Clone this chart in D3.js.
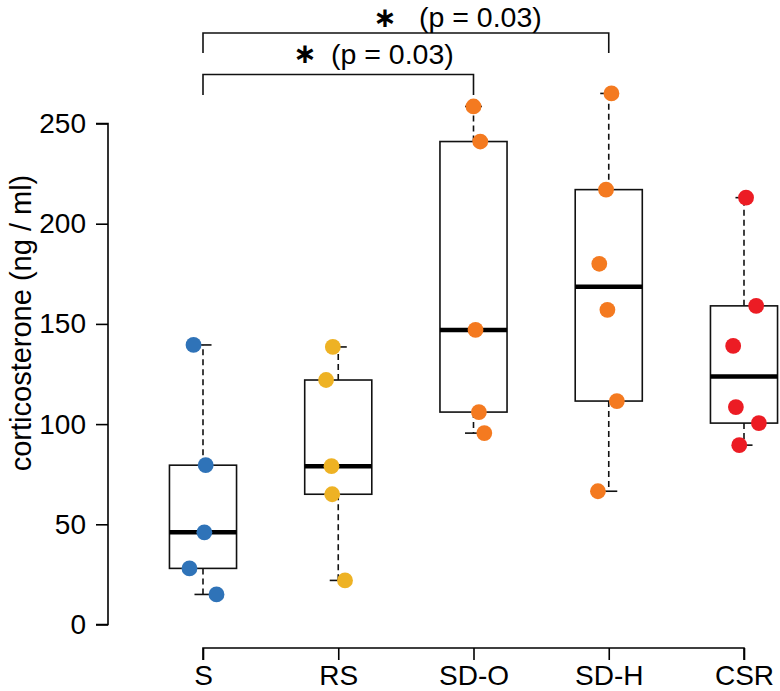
<!DOCTYPE html>
<html>
<head>
<meta charset="utf-8">
<script src="https://cdn.jsdelivr.net/npm/d3@7"></script>
<style>
  html, body { margin: 0; padding: 0; background: #fff; }
  svg { display: block; }
  text { font-family: "Liberation Sans", Arial, sans-serif; fill: #000; }
</style>
</head>
<body>
<svg id="chart" width="780" height="691"></svg>
<script>
// ---------- data ----------
const categories = ["S", "RS", "SD-O", "SD-H", "CSR"];
const valuesS   = [139.5, 79.5, 46, 28, 15];
const valuesRS  = [138.5, 122, 79, 65, 22];
const valuesSDO = [258.5, 241, 147, 106, 95.5];
const valuesSDH = [265, 217, 180, 157, 111.5, 66.5];
const valuesCSR = [213, 159, 139, 108.5, 100.5, 89.5];
// horizontal jitter of each point, in category units
const jitterS   = [-0.07, 0.02, 0.01, -0.10, 0.10];
const jitterRS  = [-0.04, -0.09, -0.05, -0.045, 0.05];
const jitterSDO = [0.0, 0.05, 0.015, 0.04, 0.08];
const jitterSDH = [0.02, -0.02, -0.07, -0.01, 0.06, -0.08];
const jitterCSR = [0.015, 0.09, -0.08, -0.06, 0.11, -0.035];
const groupColors = ["#2F73B8", "#EEB224", "#F47A20", "#F47A20", "#EC1C24"];
const yTicks = [0, 50, 100, 150, 200, 250];
const yLabel = "corticosterone (ng / ml)";
const comparisons = [
  { from: "S", to: "SD-O", star: "\u2217", label: "(p = 0.03)" },
  { from: "S", to: "SD-H", star: "\u2217", label: "(p = 0.03)" }
];

const groups = [
  { name: "S",    values: valuesS,   jitter: jitterS },
  { name: "RS",   values: valuesRS,  jitter: jitterRS },
  { name: "SD-O", values: valuesSDO, jitter: jitterSDO },
  { name: "SD-H", values: valuesSDH, jitter: jitterSDH },
  { name: "CSR",  values: valuesCSR, jitter: jitterCSR }
];

// ---------- helpers: Tukey five-number summary (as R boxplot) ----------
function fivenum(arr) {
  const x = arr.slice().sort((a, b) => a - b);
  const n = x.length;
  const n4 = Math.floor((n + 3) / 2) / 2;
  const d = [1, n4, (n + 1) / 2, n + 1 - n4, n];
  return d.map(v => 0.5 * (x[Math.floor(v) - 1] + x[Math.ceil(v) - 1]));
}

// ---------- scales ----------
const svg = d3.select("#chart");
const x = d3.scalePoint().domain(categories).range([203, 744]);
const step = x.step();
const y = d3.scaleLinear().domain([0, 250]).range([624.5, 123.5]);

const boxHalf = step * 0.248;
const stapleHalf = step * 0.063;

// ---------- y axis ----------
const yAxis = d3.axisLeft(y).tickValues(yTicks).tickSize(12).tickPadding(10).tickFormat(d3.format("d"));
const gy = svg.append("g").attr("transform", "translate(108,0)").call(yAxis);
gy.select(".domain").attr("stroke", "#000").attr("stroke-width", 1.6)
  .attr("d", `M-12,${y(0)}H0V${y(250)}H-12`);
gy.selectAll(".tick line").attr("stroke", "#000").attr("stroke-width", 1.6);
gy.selectAll(".tick text").style("font-size", "28px").attr("fill", "#000");

// ---------- x axis ----------
const xAxis = d3.axisBottom(x).tickSize(12).tickPadding(5);
const gx = svg.append("g").attr("transform", "translate(0,648)").call(xAxis);
gx.select(".domain").attr("stroke", "#000").attr("stroke-width", 1.6)
  .attr("d", `M${x(categories[0])},12V0H${x(categories[categories.length-1])}V12`);
gx.selectAll(".tick line").attr("stroke", "#000").attr("stroke-width", 1.6);
gx.selectAll(".tick text").style("font-size", "28px").attr("fill", "#000");

// ---------- y label ----------
svg.append("text")
  .attr("transform", "translate(31,323) rotate(-90)")
  .attr("text-anchor", "middle")
  .style("font-size", "29px")
  .text(yLabel);

// ---------- boxes ----------
const gBox = svg.append("g");
groups.forEach(g => {
  const [mn, q1, md, q3, mx] = fivenum(g.values);
  const cx = x(g.name);
  const bg = gBox.append("g");
  // whiskers
  bg.append("line").attr("x1", cx).attr("x2", cx).attr("y1", y(q3)).attr("y2", y(mx))
    .attr("stroke", "#111").attr("stroke-width", 1.6).attr("stroke-dasharray", "6,4");
  bg.append("line").attr("x1", cx).attr("x2", cx).attr("y1", y(q1)).attr("y2", y(mn))
    .attr("stroke", "#111").attr("stroke-width", 1.6).attr("stroke-dasharray", "6,4");
  // staples
  [mn, mx].forEach(v => {
    bg.append("line").attr("x1", cx - stapleHalf).attr("x2", cx + stapleHalf)
      .attr("y1", y(v)).attr("y2", y(v)).attr("stroke", "#111").attr("stroke-width", 1.6);
  });
  // box
  bg.append("rect").attr("x", cx - boxHalf).attr("width", 2 * boxHalf)
    .attr("y", y(q3)).attr("height", y(q1) - y(q3))
    .attr("fill", "none").attr("stroke", "#111").attr("stroke-width", 1.6);
  // median
  bg.append("line").attr("x1", cx - boxHalf).attr("x2", cx + boxHalf)
    .attr("y1", y(md)).attr("y2", y(md)).attr("stroke", "#000").attr("stroke-width", 4.5);
});

// ---------- points ----------
const gPts = svg.append("g");
groups.forEach((g, gi) => {
  gPts.selectAll(null).data(g.values.map((v, i) => ({ v, j: g.jitter[i] })))
    .join("circle")
    .attr("cx", d => x(g.name) + d.j * step)
    .attr("cy", d => y(d.v))
    .attr("r", 7.9)
    .attr("fill", groupColors[gi]);
});

// ---------- significance brackets ----------
const bracketLayout = [
  { yTop: 74.5, yBot: 95, starX: 305, starBase: 62.5, textX: 331, base: 64 },
  { yTop: 33,   yBot: 53, starX: 385, starBase: 27,   textX: 419, base: 26.5 }
];
const gSig = svg.append("g");
comparisons.forEach((c, i) => {
  const L = bracketLayout[i];
  const x1 = x(c.from), x2 = x(c.to);
  gSig.append("path")
    .attr("d", `M${x1},${L.yBot}V${L.yTop}H${x2}V${L.yBot}`)
    .attr("fill", "none").attr("stroke", "#111").attr("stroke-width", 1.6);
  gSig.append("text").attr("x", L.starX).attr("y", L.starBase)
    .attr("text-anchor", "middle")
    .style("font-family", "'DejaVu Sans', sans-serif")
    .style("font-size", "28px").style("font-weight", "bold")
    .text(c.star);
  gSig.append("text").attr("x", L.textX).attr("y", L.base)
    .style("font-size", "28.5px").text(c.label);
});
</script>
</body>
</html>
